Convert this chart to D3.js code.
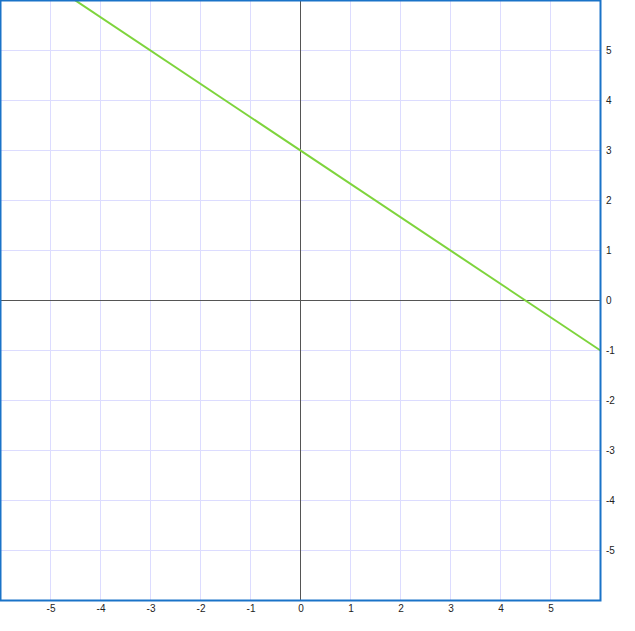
<!DOCTYPE html>
<html><head><meta charset="utf-8">
<script src="https://cdn.jsdelivr.net/npm/d3@7"></script>
<style>body{margin:0;background:#fff;}svg{display:block;}</style>
</head><body>
<script>
const xDomain = [-6, 6];
const yDomain = [-6, 6];
const gridValues = [-6,-5,-4,-3,-2,-1,0,1,2,3,4,5,6];
const tickValues = [-5,-4,-3,-2,-1,0,1,2,3,4,5];
const lineSlope = -2/3;
const lineIntercept = 3;
const lineXs = [-6, 6];

const W = 635, H = 631;
const svg = d3.select("body").append("svg").attr("width", W).attr("height", H);
const x = d3.scaleLinear().domain(xDomain).range([0.5, 600.5]);
const y = d3.scaleLinear().domain(yDomain).range([600.5, 0.5]);

const g = svg.append("g");
g.selectAll("line.gx").data(gridValues).enter().append("line")
  .attr("x1", d => x(d)).attr("x2", d => x(d)).attr("y1", 0).attr("y2", 600)
  .attr("stroke", "#dcdcff").attr("stroke-width", 1);
g.selectAll("line.gy").data(gridValues).enter().append("line")
  .attr("y1", d => y(d)).attr("y2", d => y(d)).attr("x1", 0).attr("x2", 600)
  .attr("stroke", "#dcdcff").attr("stroke-width", 1);

g.append("line").attr("x1", x(0)).attr("x2", x(0)).attr("y1", 0).attr("y2", 600)
  .attr("stroke", "#555").attr("stroke-width", 1);
g.append("line").attr("y1", y(0)).attr("y2", y(0)).attr("x1", 0).attr("x2", 600)
  .attr("stroke", "#555").attr("stroke-width", 1);

svg.append("clipPath").attr("id","clip").append("rect").attr("x",0).attr("y",0).attr("width",601).attr("height",601);
const pts = lineXs.map(v => [v, lineSlope*v + lineIntercept]);
svg.append("path").attr("clip-path","url(#clip)")
  .attr("d", d3.line().x(d => x(d[0])).y(d => y(d[1]))(pts))
  .attr("fill","none").attr("stroke","#7ed43c").attr("stroke-width",2);

svg.append("rect").attr("x",0.5).attr("y",0.5).attr("width",600).attr("height",600)
  .attr("fill","none").attr("stroke","#1a73c8").attr("stroke-width",2);

const fmt = d => String(d);
const ra = d3.axisRight(y).tickValues(tickValues).tickSize(0).tickPadding(0).tickFormat(fmt);
const rg = svg.append("g").attr("transform","translate(606,0)").call(ra);
rg.select(".domain").remove();
rg.selectAll("text").attr("font-family","Arial, Liberation Sans, sans-serif").attr("font-size",10).attr("fill","#222").attr("x",0);

const ba = d3.axisBottom(x).tickValues(tickValues).tickSize(0).tickPadding(0).tickFormat(fmt);
const bg = svg.append("g").attr("transform","translate(0,603)").call(ba);
bg.select(".domain").remove();
bg.selectAll("text").attr("font-family","Arial, Liberation Sans, sans-serif").attr("font-size",10).attr("fill","#222").attr("dy","0.9em");
</script>
</body></html>
